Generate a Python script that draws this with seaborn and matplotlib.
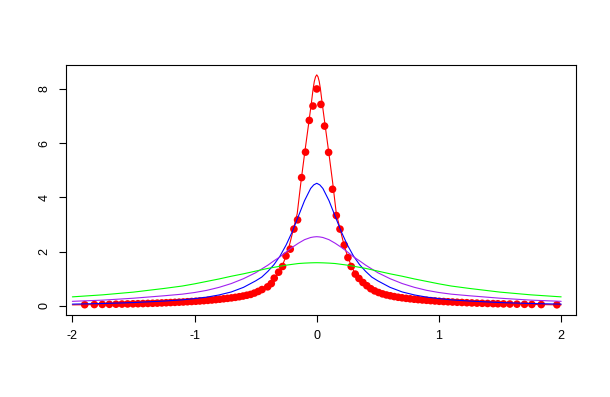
import matplotlib
matplotlib.use("Agg")
import matplotlib.pyplot as plt
import seaborn as sns
import pandas as pd

# ---- data ----
dot_x = [-1.899, -1.820, -1.755, -1.697, -1.643, -1.594, -1.548, -1.504, -1.463, -1.422,
         -1.382, -1.343, -1.305, -1.268, -1.232, -1.196, -1.161, -1.126, -1.092, -1.058,
         -1.024, -0.990, -0.957, -0.924, -0.891, -0.858, -0.826, -0.794, -0.762, -0.730,
         -0.698, -0.666, -0.634, -0.603, -0.572, -0.541, -0.510, -0.479, -0.448, -0.402,
         -0.372, -0.348, -0.312, -0.280, -0.252, -0.217, -0.187, -0.157, -0.124, -0.092,
         -0.061, -0.031, 0.000, 0.034, 0.064, 0.097, 0.129, 0.160, 0.190, 0.225,
         0.255, 0.282, 0.315, 0.345, 0.378,
         0.410, 0.442, 0.474, 0.506, 0.538, 0.570, 0.602, 0.634, 0.666, 0.698,
         0.731, 0.764, 0.797, 0.830, 0.864, 0.898, 0.932, 0.967, 1.002, 1.038,
         1.074, 1.111, 1.149, 1.188, 1.228, 1.269, 1.311, 1.354, 1.398, 1.443,
         1.482, 1.528, 1.580, 1.638, 1.700, 1.760, 1.837, 1.965]
dot_y = [0.040, 0.046, 0.051, 0.055, 0.059, 0.064, 0.068, 0.073, 0.077, 0.082,
         0.088, 0.093, 0.099, 0.106, 0.113, 0.120, 0.127, 0.134, 0.141, 0.150,
         0.159, 0.168, 0.178, 0.189, 0.201, 0.214, 0.228, 0.243, 0.259, 0.275,
         0.292, 0.312, 0.335, 0.360, 0.390, 0.420, 0.470, 0.530, 0.600, 0.700,
         0.82, 1.02, 1.24, 1.45, 1.84, 2.09, 2.83, 3.17, 4.73, 5.67,
         6.84, 7.37, 8.00, 7.43, 6.63, 5.66, 4.30, 3.33, 2.83, 2.24,
         1.78, 1.45, 1.17, 1.01, 0.86,
         0.74, 0.63, 0.55, 0.49, 0.44, 0.40, 0.37, 0.34, 0.315, 0.295,
         0.275, 0.258, 0.242, 0.228, 0.215, 0.203, 0.190, 0.178, 0.166, 0.157,
         0.148, 0.139, 0.130, 0.122, 0.114, 0.106, 0.099, 0.092, 0.086, 0.080,
         0.075, 0.070, 0.065, 0.060, 0.055, 0.050, 0.045, 0.036]

red_x = [-2.0, -1.75, -1.5, -1.25, -1.0, -0.8, -0.6, -0.5, -0.4, -0.35, -0.31, -0.28,
         -0.25, -0.22, -0.19, -0.16, -0.13, -0.1, -0.07, -0.045, -0.03, -0.02, -0.01, 0.0,
         0.01, 0.02, 0.03, 0.045, 0.07, 0.1, 0.13, 0.16, 0.19, 0.22, 0.25, 0.28, 0.31,
         0.35, 0.4, 0.5, 0.6, 0.8, 1.0, 1.25, 1.5, 1.75, 2.0]
red_y = [0.034, 0.05, 0.073, 0.11, 0.165, 0.24, 0.37, 0.50, 0.76, 0.98, 1.22, 1.5,
         1.85, 2.3, 2.85, 3.4, 4.55, 5.6, 6.6, 7.45, 8.0, 8.28, 8.45, 8.52,
         8.45, 8.28, 8.0, 7.45, 6.6, 5.6, 4.55, 3.4, 2.85, 2.3, 1.85, 1.5, 1.22,
         0.98, 0.76, 0.50, 0.37, 0.24, 0.165, 0.11, 0.073, 0.05, 0.034]

curve_x = [-2.0, -1.75, -1.5, -1.25, -1.1, -1.0, -0.9, -0.8, -0.7, -0.6, -0.5, -0.45,
           -0.4, -0.35, -0.3, -0.25, -0.2, -0.15, -0.1, -0.05, -0.025, 0.0,
           0.025, 0.05, 0.1, 0.15, 0.2, 0.25, 0.3, 0.35, 0.4, 0.45, 0.5, 0.6, 0.7,
           0.8, 0.9, 1.0, 1.1, 1.25, 1.5, 1.75, 2.0]
blue_y = [0.062, 0.085, 0.12, 0.175, 0.22, 0.265, 0.32, 0.40, 0.51, 0.68, 0.92, 1.06,
          1.27, 1.52, 1.84, 2.25, 2.74, 3.31, 3.88, 4.33, 4.46, 4.52,
          4.46, 4.33, 3.88, 3.31, 2.74, 2.25, 1.84, 1.52, 1.27, 1.06, 0.92, 0.68, 0.51,
          0.40, 0.32, 0.265, 0.22, 0.175, 0.12, 0.085, 0.062]
purple_y = [0.165, 0.21, 0.28, 0.37, 0.43, 0.49, 0.57, 0.68, 0.82, 1.0, 1.22, 1.36,
            1.50, 1.66, 1.81, 1.99, 2.16, 2.31, 2.44, 2.52, 2.54, 2.55,
            2.54, 2.52, 2.44, 2.31, 2.16, 1.99, 1.81, 1.66, 1.50, 1.36, 1.22, 1.0, 0.82,
            0.68, 0.57, 0.49, 0.43, 0.37, 0.28, 0.21, 0.165]
green_y = [0.33, 0.405, 0.505, 0.64, 0.73, 0.81, 0.90, 0.99, 1.09, 1.18, 1.28, 1.33,
           1.38, 1.42, 1.46, 1.50, 1.53, 1.56, 1.575, 1.585, 1.588, 1.59,
           1.588, 1.585, 1.575, 1.56, 1.53, 1.50, 1.46, 1.42, 1.38, 1.33, 1.28, 1.18, 1.09,
           0.99, 0.90, 0.81, 0.73, 0.64, 0.505, 0.405, 0.33]

x_ticks = [-2, -1, 0, 1, 2]
y_ticks = [0, 2, 4, 6, 8]

# ---- plotting ----
sns.set_style("white")
plt.rcParams['font.family'] = ['Liberation Sans', 'DejaVu Sans']

fig = plt.figure(figsize=(6.10, 3.97), dpi=100)
ax = fig.add_axes([0.108, 0.2065, 0.836, 0.6295])

sns.scatterplot(x=dot_x, y=dot_y, color="#FF0000", s=30, edgecolor="none",
                linewidth=0, ax=ax, zorder=2)
lw = 0.8
sns.lineplot(x=red_x, y=red_y, color="#FF0000", linewidth=lw, sort=False,
             estimator=None, ax=ax, zorder=3)
sns.lineplot(x=curve_x, y=blue_y, color="#0000FF", linewidth=lw, sort=False,
             estimator=None, ax=ax, zorder=3)
sns.lineplot(x=curve_x, y=purple_y, color="#A020F0", linewidth=lw, sort=False,
             estimator=None, ax=ax, zorder=3)
sns.lineplot(x=curve_x, y=green_y, color="#00FF00", linewidth=lw, sort=False,
             estimator=None, ax=ax, zorder=3)

ax.set_xlim(-2.053, 2.12)
ax.set_ylim(-0.34, 8.88)
ax.set_xticks(x_ticks)
ax.set_xticklabels([str(t) for t in x_ticks])
ax.set_yticks(y_ticks)
ax.set_yticklabels([str(t) for t in y_ticks], rotation=90, va="center")
ax.tick_params(axis="both", direction="out", length=5, width=0.8, color="black",
               labelsize=9, labelcolor="black", pad=6, bottom=True, left=True)
for sp in ax.spines.values():
    sp.set_visible(True)
    sp.set_color("black")
    sp.set_linewidth(0.8)
ax.set_xlabel("")
ax.set_ylabel("")
ax.grid(False)

fig.savefig("out.png", dpi=100)
